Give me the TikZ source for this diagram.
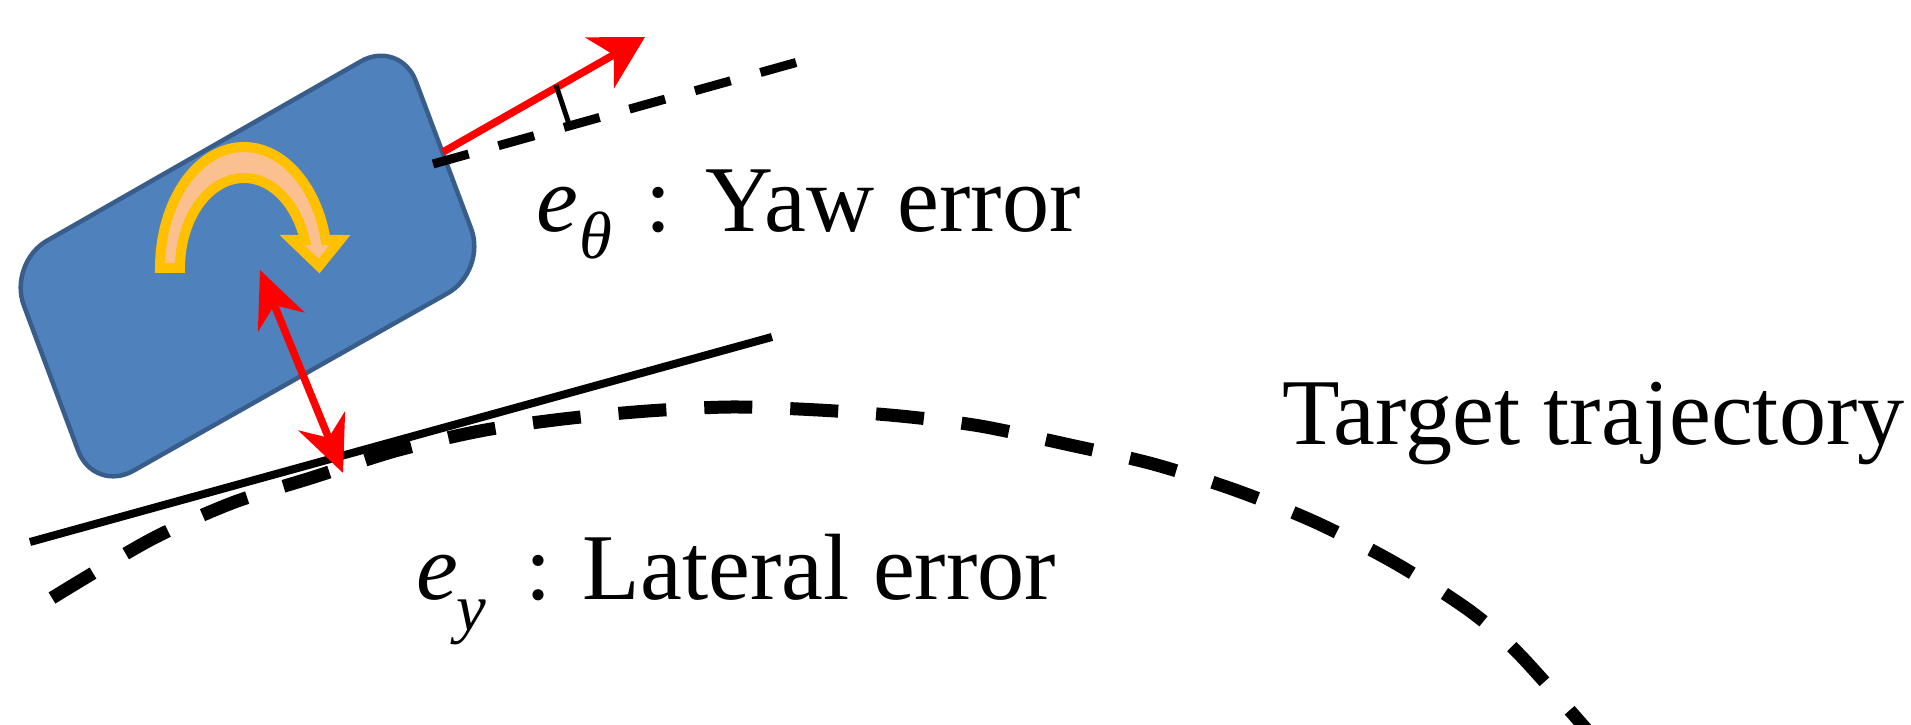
\documentclass[tikz,border=0pt]{standalone}
\usepackage{fontspec}
\setmainfont{Liberation Serif}
\usetikzlibrary{arrows.meta}
\definecolor{carfill}{HTML}{4F81BD}
\definecolor{carline}{HTML}{385D8A}
\definecolor{yawfill}{HTML}{FAC090}
\definecolor{yawline}{HTML}{FFC000}
\begin{document}
\begin{tikzpicture}[x=0.1mm,y=-0.1mm,
  carbox/.style={fill=carfill,draw=carline,line width=0.45mm,rounded corners=4.5mm},
  turnarrow/.style={fill=yawfill,draw=yawline,line width=1.0mm,line join=miter},
  redline/.style={draw=red,line width=0.75mm},
  yawtip/.style={-{Stealth[length=5.2mm,width=5.8mm,inset=1.6mm]}},
  lattip/.style={{Stealth[length=5.6mm,width=5.0mm,inset=1.8mm]}-{Stealth[length=5.6mm,width=5.0mm,inset=1.8mm]}},
  trajline/.style={line width=1.3mm,dash pattern=on 4.8mm off 3.8mm},
  headline/.style={line width=0.9mm,dash pattern=on 3.7mm off 3.1mm},
  tangentline/.style={line width=0.8mm},
  anglemark/.style={line width=0.5mm},
  lbl/.style={inner sep=0pt,anchor=base west,font=\fontsize{26.8}{30}\selectfont},
  sublbl/.style={inner sep=0pt,anchor=base west,font=\fontsize{19}{22}\selectfont}]
\useasboundingbox (0,0) rectangle (1911,725);
% target trajectory
\begin{scope}
\clip (0,0) rectangle (1911,725);
\draw[trajline] plot[smooth] coordinates {(52,598) (150,540) (232,503) (314,477) (395,451) (480,431) (563,419) (648,411) (732,407) (818,410) (900,416) (980,426) (1070,445) (1153,464) (1235,490) (1315,522) (1395,563) (1470,611) (1520,655) (1600,745)};
\end{scope}
% tangent line
\coordinate (tanA) at (30,542);
\coordinate (tanB) at (772,337);
\draw[tangentline] (tanA) -- (tanB);
% car body
\coordinate (carTL) at (8,263);
\coordinate (carTR) at (400,39);
\coordinate (carBR) at (487,271);
\coordinate (carBL) at (94,493);
\draw[carbox] (carTL) -- (carTR) -- (carBR) -- (carBL) -- cycle;
% rotation arrow
\filldraw[turnarrow] plot[domain=180:13.4,samples=60] ({244+84*cos(\x)},{268-121*sin(\x)}) -- (340,240) -- (319,266) -- (292,240) -- plot[domain=18.1:180,samples=60] ({244+64*cos(\x)},{268-90*sin(\x)}) -- cycle;
% heading reference (dashed)
\coordinate (headA) at (433,164);
\coordinate (headB) at (798,62);
\draw[headline] (headA) -- (headB);
% heading arrow
\coordinate (yawA) at (443,152);
\coordinate (yawB) at (645,37);
\draw[redline,yawtip] (yawA) -- (yawB);
% angle mark
\coordinate (angA) at (556,85);
\coordinate (angB) at (569,124);
\draw[anglemark] (angA) -- (angB);
% lateral error arrow
\coordinate (latA) at (260,270);
\coordinate (latB) at (343,473);
\draw[redline,lattip] (latA) -- (latB);
% labels
\node[lbl] (eth) at (536,232) {\itshape e};
\node[sublbl] (th) at (579,259) {\itshape θ};
\node[lbl] (colA) at (645,232) {:};
\node[lbl] (yaw) at (705,232) {Yaw error};
\node[lbl] (ey) at (416,600) {\itshape e};
\node[sublbl] (ysub) at (456,631) {\itshape y};
\node[lbl] (colB) at (525,600) {:};
\node[lbl] (lat) at (582,600) {Lateral error};
\node[lbl] (target) at (1282,445) {Target trajectory};
\end{tikzpicture}
\end{document}
